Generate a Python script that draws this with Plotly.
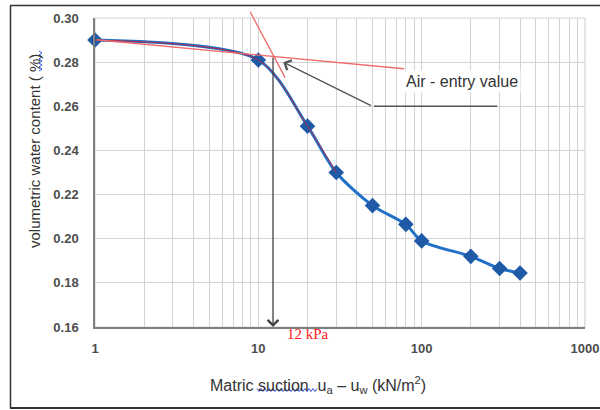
import math
import plotly.graph_objects as go

# ---------------- data ----------------
suction = [1, 10, 20, 30, 50, 80, 100, 200, 300, 400]
water_content = [0.290, 0.281, 0.251, 0.230, 0.215, 0.2065, 0.199, 0.192, 0.1865, 0.1845]
overlay_n = 4  # thin red hand-drawn curve over the first points

x_decades = [1, 10, 100, 1000]
x_tick_labels = ["1", "10", "100", "1000"]
y_ticks = [0.16, 0.18, 0.20, 0.22, 0.24, 0.26, 0.28, 0.30]

tangent_flat_x = [1, 78]
tangent_flat_y = [0.2902, 0.2770]
tangent_steep_x = [8.8, 14.6]
tangent_steep_y = [0.3035, 0.2730]
air_entry_x = 12.3
air_entry_y = 0.2828
pointer_tip = (14.2, 0.2800)
pointer_elbow = (50, 0.260)
pointer_end = (290, 0.260)

# ---------------- layout geometry ----------------
W, H = 600, 410
L, R, T, B = 95, 15, 18, 83
PW, PH = W - L - R, H - T - B


def pp(px, py):
    return (px - L) / PW, (H - B - py) / PH


lg = math.log10

fig = go.Figure()

fig.add_trace(go.Scatter(
    x=suction, y=water_content, mode="lines+markers", cliponaxis=False,
    line=dict(color="#1f70c6", width=3, shape="spline", smoothing=0.8),
    marker=dict(symbol="diamond", size=12, color="#1f5aa6"),
    hoverinfo="x+y", showlegend=False))

fig.add_trace(go.Scatter(
    x=suction[:overlay_n], y=water_content[:overlay_n], mode="lines",
    line=dict(color="#b02a48", width=1, shape="spline", smoothing=0.8),
    hoverinfo="skip", showlegend=False))


def seg(x0, y0, x1, y1, color, width, head=0, size=1.0):
    return dict(x=lg(x1), y=y1, ax=lg(x0), ay=y0, xref="x", yref="y",
                axref="x", ayref="y", text="", showarrow=True,
                arrowhead=head, arrowsize=size, arrowwidth=width,
                arrowcolor=color, standoff=0, startstandoff=0)


annotations = [
    seg(tangent_flat_x[0], tangent_flat_y[0], tangent_flat_x[1], tangent_flat_y[1], "#f26a6a", 1.3),
    seg(tangent_steep_x[0], tangent_steep_y[0], tangent_steep_x[1], tangent_steep_y[1], "#f26a6a", 1.3),
    seg(air_entry_x, air_entry_y, air_entry_x, y_ticks[0], "#404040", 1.3, head=4, size=1.6),
    seg(pointer_elbow[0], pointer_elbow[1], pointer_tip[0], pointer_tip[1], "#555555", 1.3, head=4, size=1.6),
    seg(pointer_elbow[0], pointer_elbow[1], pointer_end[0], pointer_end[1], "#555555", 1.6),
    dict(x=lg(77), y=0.2714, xref="x", yref="y", xanchor="left", yanchor="middle",
         text="Air - entry value", showarrow=False, bgcolor="white", borderpad=2,
         font=dict(family="Liberation Sans, Arial", size=16, color="#333333")),
    dict(x=lg(20), y=pp(0, 334)[1], xref="x", yref="paper", xanchor="center", yanchor="middle",
         text="12 kPa", showarrow=False,
         font=dict(family="Liberation Serif, Times New Roman", size=15, color="#ff2020")),
    dict(x=pp(34, 0)[0], y=pp(0, 151)[1], xref="paper", yref="paper", textangle=-90,
         text="volumetric water content ( %)", showarrow=False, xanchor="center", yanchor="middle",
         font=dict(family="Liberation Sans, Arial", size=15, color="#333333")),
    dict(x=pp(318, 0)[0], y=pp(0, 385)[1], xref="paper", yref="paper",
         text="Matric suction  u<sub>a</sub> – u<sub>w</sub> (kN/m<sup>2</sup>)", showarrow=False,
         xanchor="center", yanchor="middle",
         font=dict(family="Liberation Sans, Arial", size=16, color="#333333")),
]


def wavy_h(x0, x1, y, amp=1.5, period=4.0):
    pts = []
    n = int((x1 - x0) / (period / 2))
    for i in range(n + 1):
        px = x0 + i * period / 2
        py = y + (amp if i % 2 else -amp)
        pts.append(pp(px, py))
    return "M " + " L ".join(f"{a:.5f},{b:.5f}" for a, b in pts)


def wavy_v(y0, y1, x, amp=1.5, period=4.0):
    pts = []
    n = int((y1 - y0) / (period / 2))
    for i in range(n + 1):
        py = y0 + i * period / 2
        px = x + (amp if i % 2 else -amp)
        pts.append(pp(px, py))
    return "M " + " L ".join(f"{a:.5f},{b:.5f}" for a, b in pts)


shapes = [
    # plot area light border
    dict(type="rect", xref="paper", yref="paper", x0=0, y0=0, x1=1, y1=1,
         line=dict(color="#d4d4d4", width=1.2), layer="below"),
    # outer frame
    dict(type="line", xref="paper", yref="paper", x0=pp(10, 0)[0], x1=pp(620, 0)[0],
         y0=pp(0, 5.5)[1], y1=pp(0, 5.5)[1], line=dict(color="#333333", width=1.5)),
    dict(type="line", xref="paper", yref="paper", x0=pp(10, 0)[0], x1=pp(620, 0)[0],
         y0=pp(0, 408)[1], y1=pp(0, 408)[1], line=dict(color="#333333", width=2)),
    dict(type="line", xref="paper", yref="paper", x0=pp(10.5, 0)[0], x1=pp(10.5, 0)[0],
         y0=pp(0, 5.5)[1], y1=pp(0, 408)[1], line=dict(color="#333333", width=1.5)),
    # spell-check squiggles
    dict(type="path", xref="paper", yref="paper", path=wavy_h(257, 318, 390),
         line=dict(color="#3355dd", width=1)),
    dict(type="path", xref="paper", yref="paper", path=wavy_v(51, 72, 40.5),
         line=dict(color="#3355dd", width=1)),
]

grid_vals = [d * m for d in x_decades[:-1] for m in range(1, 10)] + [x_decades[-1]]
grid_text = [x_tick_labels[x_decades.index(v)] if v in x_decades else "" for v in grid_vals]

tick_font = dict(family="Liberation Sans, Arial", size=13, color="#4d4d4d", weight="bold")

fig.update_layout(
    width=W, height=H, margin=dict(l=L, r=R, t=T, b=B, pad=0, autoexpand=False),
    paper_bgcolor="white", plot_bgcolor="white",
    xaxis=dict(type="log", range=[lg(x_decades[0]), lg(x_decades[-1])],
               tickvals=grid_vals, ticktext=grid_text, ticks="", automargin=False,
               showgrid=True, gridcolor="#d3d3d3", gridwidth=1.3,
               showline=True, linecolor="#7f7f7f", linewidth=1.5,
               zeroline=False, tickfont=tick_font, ticklabelstandoff=9),
    yaxis=dict(range=[y_ticks[0], y_ticks[-1]], tickvals=y_ticks, tickformat=".2f", ticks="",
               automargin=False,
               showgrid=True, gridcolor="#d3d3d3", gridwidth=1.3,
               showline=True, linecolor="#7f7f7f", linewidth=1.5,
               zeroline=False, tickfont=tick_font, ticklabelstandoff=12),
    annotations=annotations, shapes=shapes, showlegend=False,
)

fig.write_html("out.html")
